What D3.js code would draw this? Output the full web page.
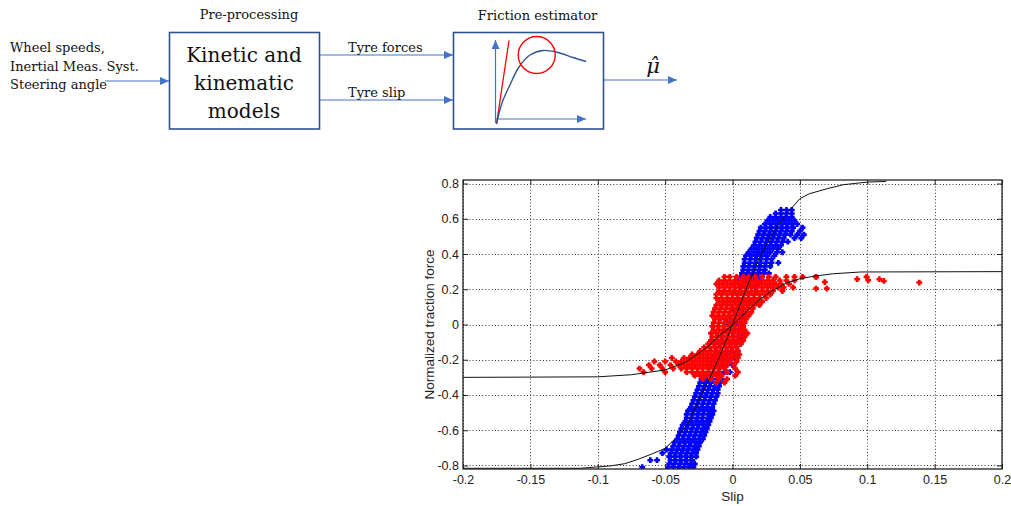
<!DOCTYPE html>
<html><head><meta charset="utf-8">
<script src="https://cdn.jsdelivr.net/npm/d3@7"></script>
<style>body{margin:0;background:#fff} svg{display:block}</style>
</head><body><svg id="c" width="1011" height="506"></svg>
<script>
// ---------------- DATA ----------------
const xTicks = [-0.2,-0.15,-0.1,-0.05,0,0.05,0.1,0.15,0.2];
const xTickLabels = ["-0.2","-0.15","-0.1","-0.05","0","0.05","0.1","0.15","0.2"];
const yTicks = [-0.8,-0.6,-0.4,-0.2,0,0.2,0.4,0.6,0.8];
const yTickLabels = ["-0.8","-0.6","-0.4","-0.2","0","0.2","0.4","0.6","0.8"];
const xLabel = "Slip";
const yLabel = "Normalized traction force";

// fitted curve, high-friction surface
const highCurveSlip  = [-0.2,-0.113,-0.1,-0.09,-0.08,-0.07,-0.06,-0.05,-0.04,-0.033,-0.025,-0.017,-0.01,0,0.01,0.02,0.03,0.04,0.045,0.05,0.057,0.07,0.082,0.095,0.1,0.114];
const highCurveForce = [-0.816,-0.816,-0.808,-0.802,-0.79,-0.765,-0.735,-0.703,-0.63,-0.561,-0.43,-0.306,-0.19,0,0.2,0.38,0.52,0.63,0.67,0.714,0.742,0.77,0.793,0.804,0.808,0.812];
// fitted curve, low-friction surface
const lowCurveSlip  = [-0.2,-0.1,-0.075,-0.05,-0.035,-0.027,-0.017,-0.012,-0.003,0.005,0.012,0.019,0.028,0.04,0.05,0.062,0.075,0.095,0.2];
const lowCurveForce = [-0.3,-0.297,-0.285,-0.258,-0.215,-0.174,-0.117,-0.075,-0.023,0.03,0.085,0.135,0.185,0.235,0.26,0.276,0.288,0.298,0.3];

// measured points, high friction (blue): rows of [force, [slips]]
const blueRows = [
 [-0.81,[-0.067,-0.048,-0.044,-0.04,-0.036,-0.032,-0.029]],
 [-0.79,[-0.047,-0.043,-0.039,-0.035,-0.031,-0.028]],
 [-0.77,[-0.061,-0.056,-0.046,-0.042,-0.038,-0.034,-0.03]],
 [-0.75,[-0.047,-0.043,-0.039,-0.035,-0.031,-0.027]],
 [-0.73,[-0.052,-0.046,-0.042,-0.038,-0.034,-0.03,-0.027]],
 [-0.71,[-0.049,-0.045,-0.041,-0.037,-0.033,-0.029,-0.026]],
 [-0.69,[-0.044,-0.04,-0.036,-0.032,-0.028,-0.025]],
 [-0.67,[-0.043,-0.039,-0.035,-0.031,-0.027,-0.024]],
 [-0.65,[-0.041,-0.037,-0.033,-0.029,-0.025,-0.022]],
 [-0.63,[-0.04,-0.036,-0.032,-0.028,-0.024,-0.021]],
 [-0.61,[-0.039,-0.035,-0.031,-0.027,-0.023,-0.02]],
 [-0.59,[-0.038,-0.034,-0.03,-0.026,-0.022,-0.019]],
 [-0.57,[-0.037,-0.033,-0.029,-0.025,-0.021,-0.018]],
 [-0.55,[-0.035,-0.031,-0.027,-0.023,-0.019,-0.017]],
 [-0.53,[-0.034,-0.03,-0.026,-0.022,-0.018,-0.016]],
 [-0.51,[-0.034,-0.03,-0.026,-0.022,-0.018,-0.015]],
 [-0.49,[-0.033,-0.029,-0.025,-0.021,-0.017,-0.014]],
 [-0.47,[-0.031,-0.027,-0.023,-0.019,-0.015]],
 [-0.45,[-0.03,-0.026,-0.022,-0.018,-0.014]],
 [-0.43,[-0.029,-0.025,-0.021,-0.017,-0.013]],
 [-0.41,[-0.028,-0.024,-0.02,-0.016,-0.012]],
 [-0.39,[-0.027,-0.023,-0.019,-0.015,-0.011]],
 [-0.37,[-0.026,-0.022,-0.018,-0.014,-0.011]],
 [-0.35,[-0.025,-0.021,-0.017,-0.013,-0.01]],
 [-0.33,[-0.024,-0.02,-0.016,-0.012,-0.009]],
 [-0.31,[-0.023,-0.019,-0.015,-0.011,-0.008]],
 [-0.27,[-0.018,-0.014,-0.01,-0.006,-0.002]],
 [-0.23,[-0.016,-0.012,-0.008,-0.004,0.0]],
 [-0.19,[-0.014,-0.01,-0.006,-0.002,0.002]],
 [-0.15,[-0.012,-0.008,-0.004,0.0,0.004]],
 [-0.11,[-0.01,-0.006,-0.002,0.002,0.006]],
 [-0.07,[-0.008,-0.004,0.0,0.004,0.007]],
 [-0.03,[-0.006,-0.002,0.002,0.005]],
 [0.01,[-0.004,0.0,0.003,0.006]],
 [0.05,[-0.002,0.002,0.005,0.008]],
 [0.09,[0.0,0.004,0.008,0.011]],
 [0.13,[0.002,0.006,0.01,0.014]],
 [0.17,[0.004,0.008,0.012,0.016]],
 [0.21,[0.006,0.01,0.014,0.017]],
 [0.25,[0.004,0.008,0.012,0.016,0.02]],
 [0.27,[0.006,0.01,0.014,0.018,0.022]],
 [0.29,[0.007,0.011,0.015,0.019,0.023,0.027]],
 [0.31,[0.008,0.012,0.016,0.02,0.024]],
 [0.33,[0.008,0.012,0.016,0.02,0.024,0.028]],
 [0.35,[0.009,0.013,0.017,0.021,0.025,0.029,0.034]],
 [0.37,[0.009,0.013,0.017,0.021,0.025,0.029]],
 [0.39,[0.01,0.014,0.018,0.022,0.026,0.031]],
 [0.41,[0.012,0.016,0.02,0.024,0.028,0.033,0.037]],
 [0.43,[0.014,0.018,0.022,0.026,0.03,0.034]],
 [0.45,[0.016,0.02,0.024,0.028,0.032,0.036]],
 [0.47,[0.017,0.021,0.025,0.029,0.033,0.037,0.041]],
 [0.49,[0.018,0.022,0.026,0.03,0.034,0.038,0.046,0.051]],
 [0.51,[0.019,0.023,0.027,0.031,0.035,0.039,0.043,0.048,0.053]],
 [0.53,[0.02,0.024,0.028,0.032,0.036,0.04,0.044,0.05]],
 [0.55,[0.021,0.025,0.029,0.033,0.037,0.041,0.045,0.052]],
 [0.57,[0.024,0.028,0.032,0.036,0.04,0.044,0.048]],
 [0.59,[0.026,0.03,0.034,0.038,0.042,0.046]],
 [0.61,[0.028,0.032,0.036,0.04,0.044]],
 [0.63,[0.032,0.036,0.04,0.044]],
 [0.65,[0.036,0.04,0.044]]
];

// measured points, low friction (red): rows of [force, [slips]]
const redRows = [
 [0.27,[-0.006,-0.002,0.003,0.008,0.012,0.017,0.022,0.027,0.032,0.04,0.046,0.052,0.062]],
 [0.25,[-0.01,-0.006,-0.002,0.002,0.006,0.01,0.014,0.018,0.022,0.026,0.03,0.035,0.04,0.046]],
 [0.23,[-0.012,-0.008,-0.004,0.0,0.004,0.008,0.012,0.016,0.02,0.024,0.028,0.032,0.036,0.042]],
 [0.21,[-0.01,-0.006,-0.002,0.002,0.006,0.01,0.014,0.018,0.022,0.026,0.03,0.034,0.038,0.045]],
 [0.19,[-0.01,-0.006,-0.002,0.002,0.006,0.01,0.014,0.018,0.022,0.026,0.03,0.037]],
 [0.17,[-0.012,-0.008,-0.004,0.0,0.004,0.008,0.012,0.016,0.02,0.024,0.028]],
 [0.15,[-0.012,-0.008,-0.004,0.0,0.004,0.008,0.012,0.016,0.02,0.025]],
 [0.13,[-0.01,-0.006,-0.002,0.002,0.006,0.01,0.014,0.018,0.022]],
 [0.11,[-0.012,-0.008,-0.004,0.0,0.004,0.008,0.012,0.016,0.02]],
 [0.09,[-0.013,-0.009,-0.005,-0.001,0.003,0.007,0.011,0.015]],
 [0.07,[-0.014,-0.01,-0.006,-0.002,0.002,0.006,0.01,0.014]],
 [0.05,[-0.015,-0.011,-0.007,-0.003,0.001,0.005,0.009,0.012]],
 [0.03,[-0.013,-0.009,-0.005,-0.001,0.003,0.007,0.01]],
 [0.01,[-0.014,-0.01,-0.006,-0.002,0.002,0.006,0.009]],
 [-0.01,[-0.015,-0.011,-0.007,-0.003,0.001,0.005,0.008]],
 [-0.03,[-0.014,-0.01,-0.006,-0.002,0.002,0.006,0.009]],
 [-0.05,[-0.016,-0.012,-0.008,-0.004,0.0,0.004,0.008,0.011]],
 [-0.07,[-0.015,-0.011,-0.007,-0.003,0.001,0.005,0.009]],
 [-0.09,[-0.016,-0.012,-0.008,-0.004,0.0,0.004,0.008]],
 [-0.11,[-0.018,-0.014,-0.01,-0.006,-0.002,0.002,0.006]],
 [-0.13,[-0.021,-0.017,-0.013,-0.009,-0.005,-0.001,0.003]],
 [-0.15,[-0.024,-0.02,-0.016,-0.012,-0.008,-0.004,0.0,0.004]],
 [-0.17,[-0.03,-0.026,-0.022,-0.018,-0.014,-0.01,-0.006,-0.002,0.002,0.005]],
 [-0.19,[-0.045,-0.036,-0.032,-0.028,-0.024,-0.02,-0.016,-0.012,-0.008,-0.004,0.0,0.004]],
 [-0.21,[-0.058,-0.05,-0.042,-0.038,-0.034,-0.03,-0.026,-0.022,-0.018,-0.014,-0.01,-0.006,-0.002,0.003]],
 [-0.23,[-0.062,-0.054,-0.046,-0.04,-0.036,-0.032,-0.028,-0.024,-0.02,-0.016,-0.012,-0.008,-0.004,0.001]],
 [-0.25,[-0.069,-0.06,-0.052,-0.044,-0.038,-0.034,-0.03,-0.026,-0.022,-0.018,-0.014,-0.01,-0.006,0.002]],
 [-0.27,[-0.066,-0.05,-0.034,-0.03,-0.026,-0.022,-0.018,-0.014,-0.01,-0.004,0.004]],
 [-0.29,[-0.028,-0.024,-0.02,-0.016,-0.012,-0.008,0.002]],
 [-0.31,[-0.022,-0.016,-0.01,-0.004]],
 [-0.33,[-0.012,-0.006]]
];
const redOutlierSlip  = [0.062,0.0685,0.062,0.07,0.0925,0.0995,0.1007,0.109,0.1123,0.1386];
const redOutlierForce = [0.27,0.241,0.204,0.204,0.257,0.27,0.251,0.257,0.247,0.238];

// ---------------- CHART ----------------
const svg = d3.select("#c");
const x = d3.scaleLinear().domain([-0.2,0.2]).range([463,1002]);
const y = d3.scaleLinear().domain([-0.82,0.82]).range([469,180]);
const [X0,X1] = x.range(), [Y0,Y1] = [y.range()[1], y.range()[0]];

svg.append("defs").append("clipPath").attr("id","plotclip")
  .append("rect").attr("x",X0).attr("y",Y0).attr("width",X1-X0).attr("height",Y1-Y0);

// grid
const grid = svg.append("g").attr("stroke","#000").attr("stroke-width",1).attr("stroke-dasharray","1,2.2").attr("opacity",0.8);
xTicks.forEach(t=>grid.append("line").attr("x1",Math.round(x(t))+0.5).attr("x2",Math.round(x(t))+0.5).attr("y1",Y0).attr("y2",Y1));
yTicks.forEach(t=>grid.append("line").attr("y1",Math.round(y(t))+0.5).attr("y2",Math.round(y(t))+0.5).attr("x1",X0).attr("x2",X1));

// points
const flat = rows => rows.flatMap(([f,ss]) => ss.map(s => [s,f]));
const plus = "M-2.9,0H2.9M0,-2.9V2.9";
const pts = svg.append("g").attr("clip-path","url(#plotclip)");
pts.selectAll(".b").data(flat(blueRows)).join("path").attr("class","b")
  .attr("d",plus).attr("transform",d=>`translate(${x(d[0])},${y(d[1])})`)
  .attr("stroke","#0000ff").attr("stroke-width",2.6).attr("fill","none");
const redPts = flat(redRows).concat(redOutlierSlip.map((s,i)=>[s,redOutlierForce[i]]));
pts.selectAll(".r").data(redPts).join("path").attr("class","r")
  .attr("d",plus).attr("transform",d=>`translate(${x(d[0])},${y(d[1])})`)
  .attr("stroke","#ff0000").attr("stroke-width",2.6).attr("fill","none");

// curves
const line = d3.line().x(d=>x(d[0])).y(d=>y(d[1]));
svg.append("path").datum(highCurveSlip.map((s,i)=>[s,highCurveForce[i]]))
  .attr("d",line).attr("fill","none").attr("stroke","#111").attr("stroke-width",1);
svg.append("path").datum(lowCurveSlip.map((s,i)=>[s,lowCurveForce[i]]))
  .attr("d",line).attr("fill","none").attr("stroke","#111").attr("stroke-width",1);

// axes
const fontAx = "'Liberation Sans', Arial, sans-serif";
function styleAxis(g){ g.selectAll(".domain").remove(); g.selectAll("line").attr("stroke","#222");
  g.selectAll("text").attr("fill","#222").style("font-family",fontAx).style("font-size","12.5px"); }
svg.append("g").attr("transform",`translate(0,${Y1})`)
  .call(d3.axisBottom(x).tickValues(xTicks).tickFormat((d,i)=>xTickLabels[i]).tickSizeInner(-5).tickSizeOuter(0).tickPadding(6)).call(styleAxis);
svg.append("g").attr("transform",`translate(${X0},0)`)
  .call(d3.axisLeft(y).tickValues(yTicks).tickFormat((d,i)=>yTickLabels[i]).tickSizeInner(-5).tickSizeOuter(0).tickPadding(4)).call(styleAxis);
svg.append("g").attr("transform",`translate(0,${Y0})`)
  .call(d3.axisTop(x).tickValues(xTicks).tickFormat("").tickSizeInner(-5).tickSizeOuter(0)).call(styleAxis);
svg.append("g").attr("transform",`translate(${X1},0)`)
  .call(d3.axisRight(y).tickValues(yTicks).tickFormat("").tickSizeInner(-5).tickSizeOuter(0)).call(styleAxis);
svg.append("rect").attr("x",X0).attr("y",Y0).attr("width",X1-X0).attr("height",Y1-Y0)
  .attr("fill","none").attr("stroke","#222").attr("stroke-width",1.3);

svg.append("text").attr("x",(X0+X1)/2).attr("y",501).attr("text-anchor","middle")
  .style("font-family",fontAx).style("font-size","13.5px").attr("fill","#222").text(xLabel);
svg.append("text").attr("transform",`translate(434,${(Y0+Y1)/2}) rotate(-90)`).attr("text-anchor","middle")
  .style("font-family",fontAx).style("font-size","13.5px").attr("fill","#222").text(yLabel);

// ---------------- BLOCK DIAGRAM ----------------
const serif = "'DejaVu Serif', 'Liberation Serif', serif";
const arrowBlue = "#4472c4", boxBlue = "#2f528f";
const defs = svg.select("defs");
defs.append("marker").attr("id","ah").attr("markerUnits","userSpaceOnUse")
  .attr("markerWidth",9).attr("markerHeight",8).attr("refX",9).attr("refY",4).attr("orient","auto")
  .append("path").attr("d","M0,0L9,4L0,8Z").attr("fill",arrowBlue);
const dg = svg.append("g");
function arrow(x1,y1,x2,y2){ dg.append("line").attr("x1",x1).attr("y1",y1).attr("x2",x2).attr("y2",y2)
  .attr("stroke",arrowBlue).attr("stroke-width",1.2).attr("marker-end","url(#ah)"); }
function txt(s,xx,yy,size,anchor){ return dg.append("text").attr("x",xx).attr("y",yy).attr("text-anchor",anchor||"start")
  .style("font-family",serif).style("font-size",size+"px").attr("fill","#111").text(s); }

arrow(105,81,169,81);
arrow(319,55,453,55);
arrow(319,100,453,100);
arrow(604,80,677,80);
dg.append("rect").attr("x",169.5).attr("y",32.5).attr("width",150).attr("height",96.5).attr("fill","none").attr("stroke",boxBlue).attr("stroke-width",1.6);
dg.append("rect").attr("x",453.5).attr("y",32.5).attr("width",150).attr("height",96.5).attr("fill","none").attr("stroke",boxBlue).attr("stroke-width",1.6);

txt("Pre-processing",249,19,13,"middle");
txt("Friction estimator",537.5,20,13,"middle");
txt("Wheel speeds,",10,52,13);
txt("Inertial Meas. Syst.",10,71,13);
txt("Steering angle",10,89,13);
txt("Kinetic and",244,62,20,"middle");
txt("kinematic",244,90,20,"middle");
txt("models",244,118,20,"middle");
txt("Tyre forces",348,52,13);
txt("Tyre slip",348,97,13);
txt("\u03BC\u0302",653,73,21,"middle").style("font-style","italic");

// mini friction curve icon
arrow(495.5,123,495.5,40);
arrow(496,119,586,119);
dg.append("line").attr("x1",496.5).attr("y1",124).attr("x2",509).attr("y2",40.5).attr("stroke","#ff0000").attr("stroke-width",1.3);
dg.append("path").attr("d",d3.line().curve(d3.curveCatmullRom)([[496.5,124],[502,103],[509,87],[519,67],[530,55],[543,50.5],[558,52.5],[573,57.5],[586,61.5]]))
  .attr("fill","none").attr("stroke","#2f5597").attr("stroke-width",1.4);
dg.append("circle").attr("cx",536.7).attr("cy",55).attr("r",18.5).attr("fill","none").attr("stroke","#ff0000").attr("stroke-width",1.4);
</script></body></html>
